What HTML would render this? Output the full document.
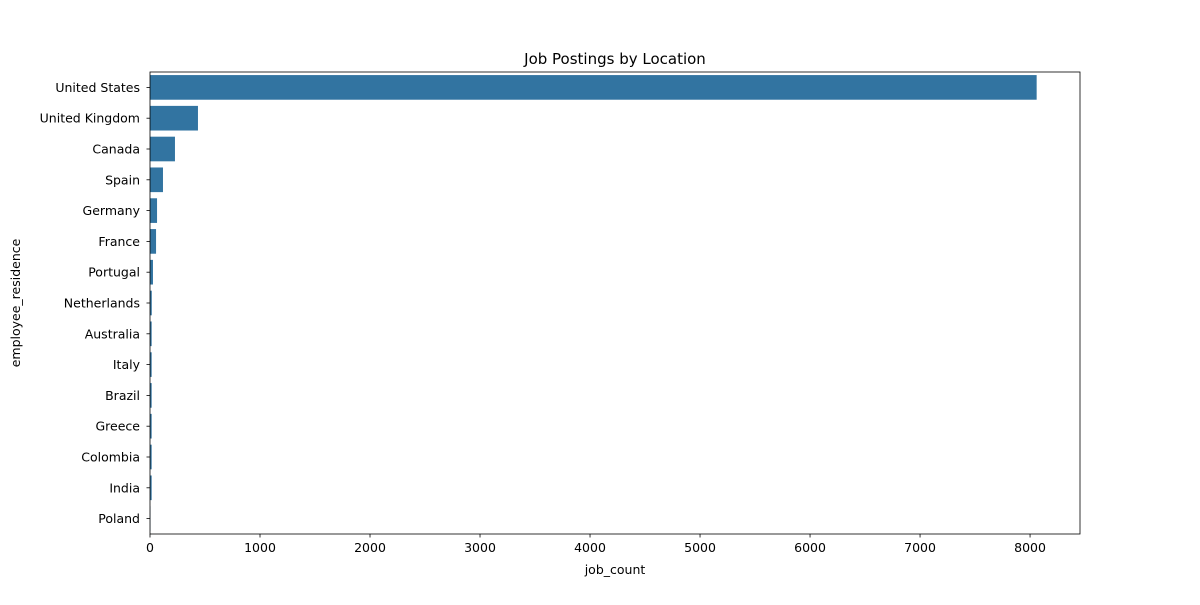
<!DOCTYPE html>
<html><head><meta charset="utf-8"><style>
body{margin:0;background:#fff}
text{font-family:"DejaVu Sans","Liberation Sans",sans-serif;fill:#000}
</style></head><body>
<svg id="chart" width="1200" height="600" xmlns="http://www.w3.org/2000/svg"></svg>
<script>
const categories=["United States","United Kingdom","Canada","Spain","Germany","France","Portugal","Netherlands","Australia","Italy","Brazil","Greece","Colombia","India","Poland"];
const values=[8060,436,227,118,64,55,27,16,15,15,15,15,15,15,3];
const xTicks=[0,1000,2000,3000,4000,5000,6000,7000,8000];
const L=150,R=1080,T=72,B=534,XMAX=8454;
const svg=document.getElementById('chart');
const NS='http://www.w3.org/2000/svg';
function mk(t,a,p){const e=document.createElementNS(NS,t);for(const k in a)e.setAttribute(k,a[k]);(p||svg).appendChild(e);return e;}
const x=v=>L+v/XMAX*(R-L);
const band=(B-T)/categories.length;
const y=i=>T+i*band;
categories.forEach((c,i)=>{
 const r=mk('rect',{x:L,y:y(i)+band*0.1,width:x(values[i])-L,height:band*0.8,fill:'#3274a1'});
 
 
 const cy=y(i)+band/2;
 mk('line',{x1:L-3.5,x2:L,y1:cy,y2:cy,stroke:'#000','stroke-width':0.8});
 const t=mk('text',{x:L-10,y:cy+4.5,'text-anchor':'end','font-size':12.5});
 t.textContent=c;
 
 
});
xTicks.forEach(v=>{
 mk('line',{x1:x(v),x2:x(v),y1:B,y2:B+3.5,stroke:'#000','stroke-width':0.8});
 const t=mk('text',{x:x(v),y:B+18,'text-anchor':'middle','font-size':12.5});
 t.textContent=v;
 
 
});
const f=mk('rect',{x:L,y:T,width:R-L,height:B-T,fill:'none',stroke:'#000','stroke-width':0.8});


const ti=mk('text',{x:(L+R)/2,y:64,'text-anchor':'middle','font-size':15});ti.textContent='Job Postings by Location';


const xt=mk('text',{x:(L+R)/2,y:574,'text-anchor':'middle','font-size':12.5});xt.textContent='job_count';


const yt=mk('text',{x:0,y:0,'text-anchor':'middle','font-size':12.5,transform:`translate(20,${(T+B)/2}) rotate(-90)`});yt.textContent='employee_residence';


</script>
</body></html>
